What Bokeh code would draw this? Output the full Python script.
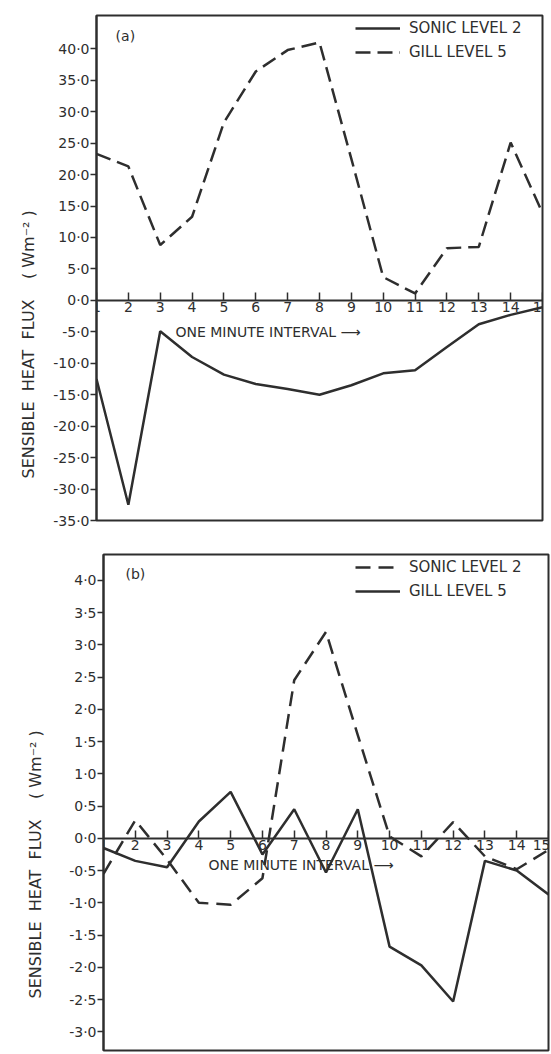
from bokeh.plotting import figure
from bokeh.models import FixedTicker, Label, Legend, LegendItem, CustomJSTickFormatter, Title
from bokeh.embed import file_html
from bokeh.resources import INLINE

# ---------------- data ----------------
minutes = list(range(1, 16))

# panel (a)
a_sonic_level2 = [-12.5, -32.5, -4.9, -9.0, -11.8, -13.3, -14.1, -15.0, -13.5, -11.6, -11.1, -7.4, -3.8, -2.3, -1.1]
a_gill_level5 = [23.3, 21.3, 8.8, 13.3, 28.3, 36.4, 39.8, 41.0, 22.5, 3.7, 1.1, 8.3, 8.5, 25.1, 13.9]
a_yticks = [40, 35, 30, 25, 20, 15, 10, 5, 0, -5, -10, -15, -20, -25, -30, -35]

# panel (b)
b_sonic_level2 = [-0.55, 0.28, -0.33, -1.0, -1.03, -0.62, 2.45, 3.2, 1.6, 0.03, -0.28, 0.25, -0.28, -0.48, -0.18]
b_gill_level5 = [-0.15, -0.35, -0.45, 0.26, 0.72, -0.25, 0.45, -0.53, 0.45, -1.68, -1.97, -2.53, -0.35, -0.5, -0.87]
b_yticks = [4.0, 3.5, 3.0, 2.5, 2.0, 1.5, 1.0, 0.5, 0.0, -0.5, -1.0, -1.5, -2.0, -2.5, -3.0]

series_names = ["SONIC LEVEL 2", "GILL LEVEL 5"]
NB = "\u00a0"
y_label = ("SENSIBLE" + NB * 2 + "HEAT" + NB * 2 + "FLUX" + NB * 4 + "(" + NB + "Wm\u207b\u00b2" + NB + ")")
x_label = "ONE MINUTE INTERVAL \u27f6"

INK = "#2e2e2e"
FONT = "DejaVu Sans"


def style(p, yticks):
    p.xgrid.visible = False
    p.ygrid.visible = False
    p.outline_line_color = INK
    p.outline_line_width = 2
    p.background_fill_color = "white"
    p.border_fill_color = "white"

    xa = p.xaxis[0]
    xa.fixed_location = 0
    xa.ticker = FixedTicker(ticks=minutes)
    xa.major_tick_in = 8
    xa.major_tick_out = 0
    xa.minor_tick_in = 0
    xa.minor_tick_out = 0
    xa.major_label_standoff = 2
    xa.axis_line_color = INK
    xa.axis_line_width = 2
    xa.major_tick_line_color = INK
    xa.major_tick_line_width = 1.5
    xa.major_label_text_font = FONT
    xa.major_label_text_font_size = "14px"
    xa.major_label_text_color = INK

    ya = p.yaxis[0]
    ya.ticker = FixedTicker(ticks=yticks)
    ya.formatter = CustomJSTickFormatter(code="return tick.toFixed(1).replace('.', '\u00b7');")
    ya.major_tick_in = 0
    ya.major_tick_out = 6
    ya.minor_tick_in = 0
    ya.minor_tick_out = 0
    ya.major_label_standoff = 1
    ya.axis_line_color = INK
    ya.axis_line_width = 2
    ya.major_tick_line_color = INK
    ya.major_tick_line_width = 1.5
    ya.major_label_text_font = FONT
    ya.major_label_text_font_size = "14px"
    ya.major_label_text_color = INK


def add_legend(p, renderers, label_width):
    leg = Legend(
        items=[LegendItem(label=n, renderers=[r]) for n, r in zip(series_names, renderers)],
        location="top_right",
        margin=3,
        padding=2,
        spacing=4,
        glyph_width=45,
        glyph_height=20,
        label_height=20,
        label_width=label_width,
        label_standoff=9,
        label_text_font=FONT,
        label_text_font_size="15px",
        label_text_color=INK,
        border_line_color=None,
        background_fill_alpha=0,
    )
    p.add_layout(leg)


def text_label(p, x, y, text, size):
    p.add_layout(Label(x=x, y=y, text=text, text_align="left", text_baseline="middle",
                       text_font=FONT, text_font_size=size, text_color=INK))


def side_title(p, offset, standoff):
    p.add_layout(Title(text=y_label, align="left", offset=offset, standoff=standoff,
                       text_font=FONT, text_font_size="16px", text_font_style="normal",
                       text_color=INK), "left")


# ---------------- panel (a) ----------------
pa = figure(frame_width=446, frame_height=505,
            min_border_left=96, min_border_right=8, min_border_top=15, min_border_bottom=17,
            x_range=(1, 15), y_range=(-35, 45.3),
            toolbar_location=None, output_backend="svg")
style(pa, a_yticks)
ra1 = pa.line(minutes, a_sonic_level2, line_width=2.5, line_color=INK)
ra2 = pa.line(minutes, a_gill_level5, line_width=2.5, line_color=INK, line_dash="15 7")
add_legend(pa, [ra1, ra2], 130)
text_label(pa, 1.6, 42.1, "(a)", "14px")
text_label(pa, 3.48, -5.0, x_label, "14px")
side_title(pa, 42, 25)

# ---------------- panel (b) ----------------
pb = figure(frame_width=445, frame_height=496,
            min_border_left=103, min_border_right=2, min_border_top=17, min_border_bottom=2,
            x_range=(1, 15), y_range=(-3.29, 4.4),
            toolbar_location=None, output_backend="svg")
style(pb, b_yticks)
rb1 = pb.line(minutes, b_sonic_level2, line_width=2.5, line_color=INK, line_dash="15 8")
rb2 = pb.line(minutes, b_gill_level5, line_width=2.5, line_color=INK)
add_legend(pb, [rb1, rb2], 136)
text_label(pb, 1.69, 4.09, "(b)", "14px")
text_label(pb, 4.30, -0.42, x_label, "14px")
side_title(pb, 52, 43)

open("out.html", "w").write(file_html([pa, pb], INLINE))
